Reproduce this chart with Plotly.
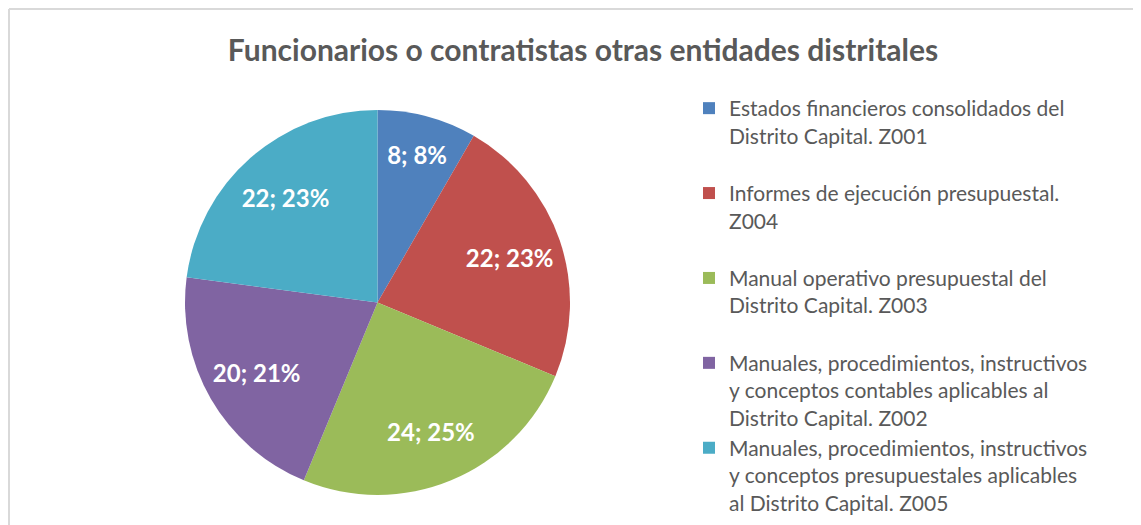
import plotly.graph_objects as go

# ---- data ----
categories = [
    "Estados financieros consolidados del<br>Distrito Capital. Z001<br>\u00a0",
    "Informes de ejecución presupuestal.<br>Z004<br>\u00a0",
    "Manual operativo presupuestal del<br>Distrito Capital. Z003<br>\u00a0",
    "Manuales, procedimientos, instructivos<br>y conceptos contables aplicables al<br>Distrito Capital. Z002",
    "Manuales, procedimientos, instructivos<br>y conceptos presupuestales aplicables<br>al Distrito Capital. Z005",
]
values = [8, 22, 24, 20, 22]
colors = ["#4F81BD", "#C0504D", "#9BBB59", "#8064A2", "#4BACC6"]
title_text = "Funcionarios o contratistas otras entidades distritales"

W, H = 1141, 525
OFF = 8  # page body margin offset
dom = dict(x=[(185 - OFF) / W, (570 - OFF) / W], y=[1 - (495 - OFF) / H, 1 - (110 - OFF) / H])

# coloured pie (no text)
pie_fill = go.Pie(
    labels=categories,
    values=values,
    sort=False,
    direction="clockwise",
    rotation=0,
    marker=dict(colors=colors, line=dict(width=0)),
    textinfo="none",
    domain=dom,
    hoverinfo="label+value+percent",
)
# transparent ring carrying the data labels, pushes labels outward
pie_labels = go.Pie(
    labels=categories,
    values=values,
    sort=False,
    direction="clockwise",
    rotation=0,
    hole=0.45,
    marker=dict(colors=["rgba(0,0,0,0)"] * len(values), line=dict(width=0)),
    texttemplate="%{value}; %{percent:.0%}",
    textposition="inside",
    insidetextorientation="horizontal",
    textfont=dict(family="Lato", size=24, color="white", weight="bold"),
    domain=dom,
    showlegend=False,
    hoverinfo="skip",
)

fig = go.Figure([pie_fill, pie_labels])

fig.update_layout(
    width=W,
    height=H,
    margin=dict(l=0, r=0, t=0, b=0),
    paper_bgcolor="white",
    plot_bgcolor="white",
    title=dict(
        text="<b>" + title_text + "</b>",
        x=(583 - OFF) / W,
        xanchor="center",
        y=1 - (50 - OFF) / H,
        yanchor="middle",
        font=dict(family="Lato", size=30, color="#595959"),
    ),
    legend=dict(
        x=(689 - OFF) / W,
        xanchor="left",
        y=1 - 80 / H,
        yanchor="top",
        valign="top",
        font=dict(family="Lato", size=21, color="#595959"),
        bgcolor="rgba(0,0,0,0)",
    ),
    showlegend=True,
    shapes=[
        dict(type="line", xref="paper", yref="paper", x0=1 / W, x1=1, y0=1 - 1 / H, y1=1 - 1 / H,
             line=dict(color="#D9D9D9", width=2)),
        dict(type="line", xref="paper", yref="paper", x0=1 / W, x1=1 / W, y0=0, y1=1 - 1 / H,
             line=dict(color="#D9D9D9", width=2)),
    ],
)

fig.write_html("out.html")
